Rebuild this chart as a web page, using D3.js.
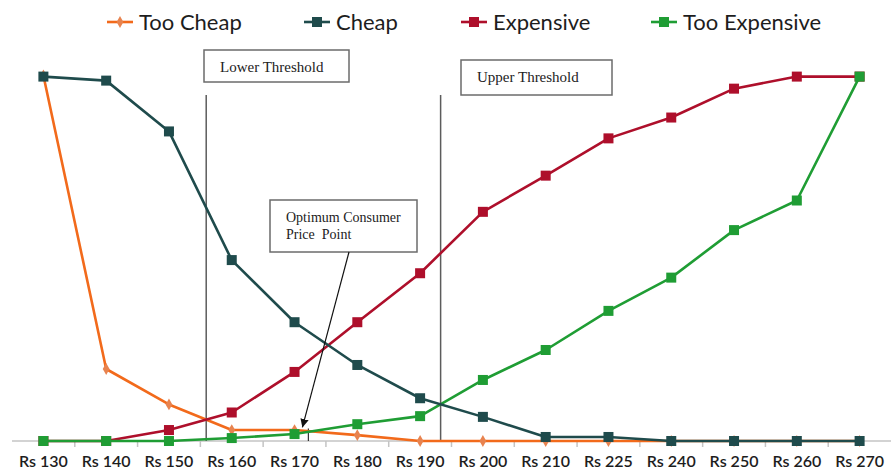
<!DOCTYPE html>
<html>
<head>
<meta charset="utf-8">
<script src="https://cdn.jsdelivr.net/npm/d3@7"></script>
<style>
  html, body { margin: 0; padding: 0; background: #fff; }
  svg { display: block; }
</style>
</head>
<body>
<svg id="chart" width="891" height="471"></svg>
<script>
// Price points surveyed (Van Westendorp price sensitivity)
const prices = ["Rs 130", "Rs 140", "Rs 150", "Rs 160", "Rs 170", "Rs 180", "Rs 190",
                "Rs 200", "Rs 210", "Rs 225", "Rs 240", "Rs 250", "Rs 260", "Rs 270"];

// Cumulative share of respondents per price point
const tooCheap     = [1.000, 0.197, 0.100, 0.030, 0.030, 0.016, 0.000, 0.000, 0.000, 0.000, 0.000, 0.000, 0.000, 0.000];
const cheap        = [0.997, 0.986, 0.847, 0.495, 0.325, 0.208, 0.117, 0.066, 0.011, 0.011, 0.000, 0.000, 0.000, 0.000];
const expensive    = [0.000, 0.000, 0.030, 0.078, 0.189, 0.325, 0.459, 0.627, 0.726, 0.828, 0.885, 0.964, 0.997, 0.997];
const tooExpensive = [0.000, 0.000, 0.000, 0.008, 0.019, 0.046, 0.068, 0.167, 0.249, 0.356, 0.447, 0.577, 0.658, 0.997];

const seriesNames = ["Too Cheap", "Cheap", "Expensive", "Too Expensive"];

const colors = {
  "Too Cheap": "#f26a1b",
  "Cheap": "#1f4b4c",
  "Expensive": "#ae0f2b",
  "Too Expensive": "#1f9d34"
};

const series = [
  { name: "Too Cheap", values: tooCheap, shape: "diamond" },
  { name: "Cheap", values: cheap, shape: "square" },
  { name: "Expensive", values: expensive, shape: "square" },
  { name: "Too Expensive", values: tooExpensive, shape: "square" }
];

const svg = d3.select("#chart");

const x = d3.scaleBand().domain(prices).range([12, 891]).padding(0);
const y = d3.scaleLinear().domain([0, 1]).range([441, 75.5]);
const cx = d => x(d) + x.bandwidth() / 2;

// X axis: ticks on category boundaries, labels centred in each band
const axis = svg.append("g").attr("transform", "translate(0,441)");
axis.append("line").attr("x1", 12).attr("x2", 891).attr("stroke", "#c4c4c4").attr("stroke-width", 1.5);
axis.selectAll("line.tick").data(prices.slice(1)).join("line")
  .attr("class", "tick")
  .attr("x1", d => x(d)).attr("x2", d => x(d))
  .attr("y1", 0).attr("y2", 6)
  .attr("stroke", "#c4c4c4").attr("stroke-width", 1.5);
axis.selectAll("text").data(prices).join("text")
  .attr("x", d => cx(d)).attr("y", 26)
  .attr("text-anchor", "middle")
  .attr("font-family", "Lato, sans-serif")
  .attr("font-size", 16)
  .attr("font-weight", 600)
  .attr("fill", "#1d1d1d")
  .text(d => d);

// Crossing point of two series between consecutive price points
function crossing(a, b) {
  for (let i = 0; i < prices.length - 1; i++) {
    const d0 = a[i] - b[i], d1 = a[i + 1] - b[i + 1];
    if (d0 > 0 && d1 <= 0 || d0 < 0 && d1 >= 0) {
      const t = d0 / (d0 - d1);
      const px = cx(prices[i]) + t * (cx(prices[i + 1]) - cx(prices[i]));
      const v = a[i] + t * (a[i + 1] - a[i]);
      return { x: px, v: v };
    }
  }
  return null;
}

const lower = crossing(tooCheap, expensive);
const upper = crossing(cheap, tooExpensive);
const optimum = crossing(tooCheap, tooExpensive);

// Threshold lines
const guides = svg.append("g");
[lower, upper].forEach(p => {
  guides.append("line")
    .attr("x1", p.x).attr("x2", p.x)
    .attr("y1", 95).attr("y2", 441)
    .attr("stroke", "#5c5c5c").attr("stroke-width", 1.5);
});
guides.append("line")
  .attr("x1", optimum.x - 3).attr("x2", optimum.x - 3)
  .attr("y1", y(optimum.v) - 3).attr("y2", 441)
  .attr("stroke", "#333").attr("stroke-width", 1.2);

// Series lines and markers
const line = d3.line().x((d, i) => cx(prices[i])).y(d => y(d));
const drawOrder = ["Too Cheap", "Expensive", "Too Expensive", "Cheap"];
drawOrder.forEach(name => {
  const s = series.find(d => d.name === name);
  const g = svg.append("g");
  g.append("path")
    .attr("d", line(s.values))
    .attr("fill", "none")
    .attr("stroke", colors[name])
    .attr("stroke-width", 2.6)
    .attr("stroke-linejoin", "round");
  if (s.shape === "square") {
    g.selectAll("rect").data(s.values).join("rect")
      .attr("x", (d, i) => cx(prices[i]) - 5)
      .attr("y", d => y(d) - 5)
      .attr("width", 10).attr("height", 10)
      .attr("fill", colors[name]);
  } else {
    g.selectAll("path.m").data(s.values).join("path")
      .attr("class", "m")
      .attr("d", d3.symbol().type(d3.symbolDiamond).size(40))
      .attr("transform", (d, i) => `translate(${cx(prices[i])},${y(d)})`)
      .attr("fill", "#e8834f");
  }
});

// Annotation boxes
function box(x0, y0, w, h, lines, size, lineGap) {
  const g = svg.append("g");
  g.append("rect")
    .attr("x", x0).attr("y", y0).attr("width", w).attr("height", h)
    .attr("fill", "#fff").attr("stroke", "#6b6b6b").attr("stroke-width", 1.5);
  lines.forEach((t, i) => {
    g.append("text")
      .attr("x", x0 + 16).attr("y", y0 + 22 + i * lineGap)
      .attr("font-family", "'Liberation Serif', 'Times New Roman', serif")
      .attr("font-size", size)
      .attr("fill", "#222")
      .style("white-space", "pre")
      .text(t);
  });
}
box(204, 50, 145, 32, ["Lower Threshold"], 15, 0);
box(461, 60, 151, 35, ["Upper Threshold"], 15, 0);
box(270, 200, 147, 52, ["Optimum Consumer", "Price  Point"], 14, 17);

// Arrow to the optimum point
svg.append("defs").append("marker")
  .attr("id", "arrowHead")
  .attr("viewBox", "0 0 10 10")
  .attr("refX", 10).attr("refY", 5)
  .attr("markerWidth", 7).attr("markerHeight", 7)
  .attr("orient", "auto")
  .append("path").attr("d", "M0,0 L10,5 L0,10 Z").attr("fill", "#111");
svg.append("line")
  .attr("x1", 349).attr("y1", 252)
  .attr("x2", optimum.x - 9).attr("y2", y(optimum.v) - 4)
  .attr("stroke", "#111").attr("stroke-width", 1.2)
  .attr("marker-end", "url(#arrowHead)");

// Legend
const legendX = [107, 304, 461, 651];
const legend = svg.append("g");
seriesNames.forEach((name, i) => {
  const g = legend.append("g").attr("transform", `translate(${legendX[i]},22)`);
  g.append("line").attr("x1", 0).attr("x2", 26).attr("y1", 0).attr("y2", 0)
    .attr("stroke", colors[name]).attr("stroke-width", 2.6);
  if (name === "Too Cheap") {
    g.append("path").attr("d", d3.symbol().type(d3.symbolDiamond).size(40))
      .attr("transform", "translate(13,0)").attr("fill", "#e8834f");
  } else {
    g.append("rect").attr("x", 8).attr("y", -5).attr("width", 10).attr("height", 10)
      .attr("fill", colors[name]);
  }
  g.append("text")
    .attr("x", 32).attr("y", 8)
    .attr("font-family", "Lato, sans-serif")
    .attr("font-size", 22)
    .attr("fill", "#1d1d1d")
    .text(name);
});
</script>
</body>
</html>
